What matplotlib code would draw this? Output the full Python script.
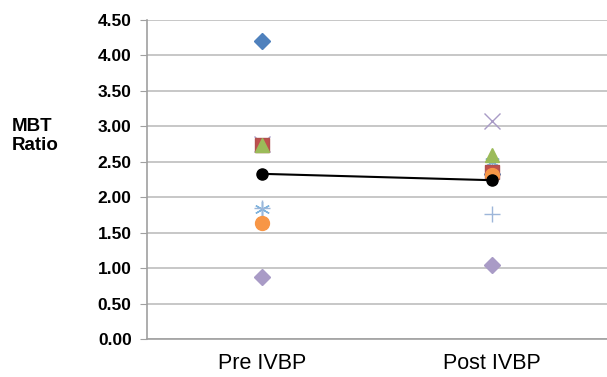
import matplotlib
matplotlib.use("Agg")
import matplotlib.pyplot as plt

plt.rcParams['font.family'] = ['Liberation Sans', 'DejaVu Sans']

categories = ["Pre IVBP", "Post IVBP"]
yticks = [0.0, 0.5, 1.0, 1.5, 2.0, 2.5, 3.0, 3.5, 4.0, 4.5]

s1 = [4.21, 2.33]   # blue diamond
s2 = [2.73, 2.35]   # red square
s3 = [2.73, 2.59]   # green triangle
s4 = [2.75, 3.08]   # purple x
s5 = [1.83, 2.50]   # aqua star
s6 = [1.64, 2.31]   # orange circle
s7 = [1.85, 1.76]   # light blue plus
s8 = [0.87, 1.05]   # lavender diamond
mean = [2.33, 2.24]

fig = plt.figure(figsize=(6.07, 3.77), dpi=100)
ax = fig.add_axes([147/607, 38/377, 460/607, 319/377])
x = [0, 1]

ax.plot(x, s1, ls='none', marker='D', ms=8, color='#4F81BD', zorder=3)
ax.plot(x, s4, ls='none', marker='x', ms=11, mew=1.0, color='#A99BC6', zorder=3)
ax.plot(x, s2, ls='none', marker='s', ms=10, color='#C0504D', mec='#B0504D', zorder=4)
ax.plot(x, s3, ls='none', marker='^', ms=10, color='#9BBB59', zorder=5)
ax.plot(x, s5, ls='none', marker=(6, 2, 0), ms=11, mew=1.0, color='#7FB3DD', zorder=3)
ax.plot(x, s6, ls='none', marker='o', ms=10, color='#F79646', zorder=4)
ax.plot(x, s7, ls='none', marker='+', ms=11, mew=1.0, color='#9DB6D9', zorder=3)
ax.plot(x, s8, ls='none', marker='D', ms=8, color='#A99BC6', zorder=3)
ax.plot(x, mean, ls='-', lw=1.5, marker='o', ms=8, color='black', zorder=6)

ax.set_xlim(-0.5, 1.5)
ax.set_ylim(0, 4.5)
ax.set_yticks(yticks)
ax.set_yticklabels([f"{v:.2f}" for v in yticks], fontsize=12.5, fontweight='bold')
ax.set_xticks(x)
ax.set_xticklabels(categories, fontsize=15.5)
ax.tick_params(axis='x', length=0, pad=10)
ax.tick_params(axis='y', length=5, color='#A0A0A0', pad=6)
ax.yaxis.grid(True, color='#BEBEBE', lw=1.2)
ax.set_axisbelow(True)
for sp in ['top', 'right']:
    ax.spines[sp].set_visible(False)
for sp in ['left', 'bottom']:
    ax.spines[sp].set_color('#A0A0A0')
    ax.spines[sp].set_linewidth(1.2)

fig.text(12/607, 1 - 136/377, "MBT\nRatio", fontsize=13.5, fontweight='bold',
         ha='left', va='center', linespacing=1.2)

fig.savefig("out.png", dpi=100)
